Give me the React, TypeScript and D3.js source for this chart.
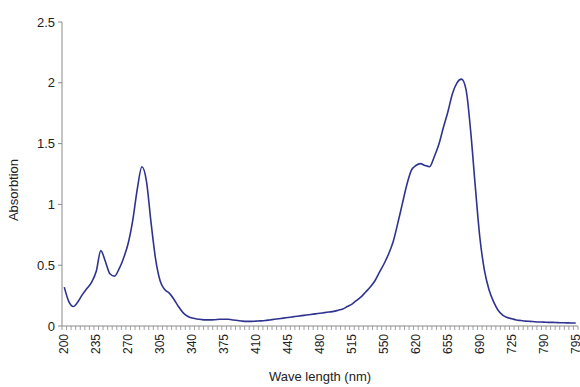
import React from "react";
import * as d3 from "d3";

const xTickLabels = ["200","235","270","305","340","375","410","445","480","515","550","620","655","690","725","790","795"];
const labelEvery = 7;

const absorbance = [
  0.32,0.20,0.16,0.20,0.26,0.31,0.36,0.45,0.62,0.53,
  0.43,0.41,0.47,0.56,0.68,0.87,1.13,1.31,1.19,0.85,
  0.55,0.37,0.30,0.27,0.22,0.16,0.11,0.08,0.065,0.058,
  0.053,0.05,0.05,0.052,0.055,0.056,0.055,0.05,0.045,0.04,
  0.038,0.038,0.04,0.042,0.045,0.05,0.055,0.06,0.065,0.07,
  0.075,0.08,0.085,0.09,0.095,0.10,0.105,0.11,0.115,0.12,
  0.13,0.14,0.16,0.18,0.21,0.24,0.28,0.32,0.37,0.44,
  0.51,0.59,0.69,0.84,1.0,1.16,1.28,1.32,1.335,1.32,
  1.31,1.39,1.49,1.63,1.76,1.91,2.0,2.03,1.94,1.6,
  1.15,0.73,0.46,0.30,0.20,0.13,0.09,0.07,0.06,0.05,
  0.045,0.04,0.038,0.035,0.033,0.032,0.03,0.03,0.028,0.027,
  0.026,0.025,0.025
];

const yTicks = [0, 0.5, 1, 1.5, 2, 2.5];
const yTickLabels = ["0", "0.5", "1", "1.5", "2", "2.5"];

const W = 580, H = 387;
const left = 62, right = 578, top = 22, bottom = 326;
const font = "'Liberation Sans', Arial, sans-serif";

export default function App() {
  const n = absorbance.length;
  const idx = d3.range(n);
  const x = d3.scaleBand<number>().domain(idx).range([left, right]).paddingInner(0).paddingOuter(0);
  const xc = (i: number) => (x(i) as number) + x.bandwidth() / 2;
  const y = d3.scaleLinear().domain([0, 2.5]).range([bottom, top]);
  const line = d3.line<number>().x((_, i) => xc(i)).y(d => y(d)).curve(d3.curveMonotoneX);
  const tickBounds = d3.range(n + 1).map(i => left + i * x.bandwidth());
  const axisColor = "#8a8a8a";

  return (
    <svg width={W} height={H} style={{ position: "absolute", left: 0, top: 0, background: "#fff" }}>
      {/* y axis */}
      <line x1={left} x2={left} y1={top} y2={bottom} stroke={axisColor} strokeWidth={1} />
      {yTicks.map((t, k) => (
        <g key={t}>
          <line x1={left - 4} x2={left} y1={y(t)} y2={y(t)} stroke={axisColor} />
          <text x={left - 7} y={y(t)} dy="0.35em" textAnchor="end" fontFamily={font} fontSize={13} fill="#222">
            {yTickLabels[k]}
          </text>
        </g>
      ))}
      {/* x axis */}
      <line x1={left} x2={right} y1={bottom} y2={bottom} stroke={axisColor} strokeWidth={1} />
      {tickBounds.map((bx, k) => (
        <line key={k} x1={bx} x2={bx} y1={bottom} y2={bottom + 4} stroke={axisColor} strokeWidth={0.8} />
      ))}
      {xTickLabels.map((lab, k) => {
        const cx = xc(k * labelEvery);
        const ty = bottom + 8;
        return (
          <text key={lab + k} x={cx} y={ty} transform={`rotate(-90 ${cx} ${ty})`} textAnchor="end" dy="0.35em"
            fontFamily={font} fontSize={12} fill="#222">
            {lab}
          </text>
        );
      })}
      {/* data line */}
      <path d={line(absorbance) || ""} fill="none" stroke="#2f338f" strokeWidth={1.6} strokeLinejoin="round" />
      {/* titles */}
      <text x={320} y={381} textAnchor="middle" fontFamily={font} fontSize={13} fill="#222">Wave length (nm)</text>
      <text x={18} y={190} transform="rotate(-90 18 190)" textAnchor="middle" fontFamily={font} fontSize={13} fill="#222">Absorbtion</text>
    </svg>
  );
}
